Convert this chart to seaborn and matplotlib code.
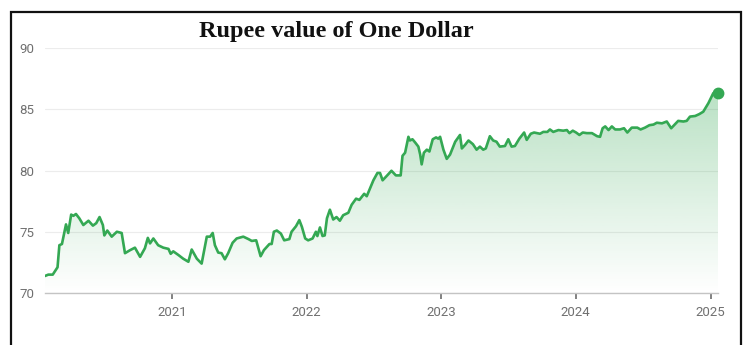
import numpy as np
import pandas as pd
import matplotlib
matplotlib.use("Agg")
import matplotlib.pyplot as plt
import matplotlib.dates as mdates
from matplotlib.patches import Rectangle
import seaborn as sns

# USD/INR reference rate (rupees per dollar)
dates = [
    "2020-01-22", "2020-01-31", "2020-02-12", "2020-02-25", "2020-03-01", "2020-03-08",
    "2020-03-19", "2020-03-25", "2020-04-02", "2020-04-08", "2020-04-15", "2020-04-24",
    "2020-05-05", "2020-05-19", "2020-05-31", "2020-06-09", "2020-06-18", "2020-06-27",
    "2020-07-01", "2020-07-09", "2020-07-21", "2020-08-04", "2020-08-17", "2020-08-26",
    "2020-09-09", "2020-09-22", "2020-10-06", "2020-10-19", "2020-10-27", "2020-11-02",
    "2020-11-11", "2020-11-24", "2020-12-08", "2020-12-22", "2020-12-28", "2021-01-04",
    "2021-01-18", "2021-01-31", "2021-02-14", "2021-02-23", "2021-03-09", "2021-03-22",
    "2021-04-05", "2021-04-14", "2021-04-21", "2021-04-27", "2021-05-06", "2021-05-15",
    "2021-05-24", "2021-06-02", "2021-06-14", "2021-06-25", "2021-07-13", "2021-07-27",
    "2021-08-05", "2021-08-17", "2021-08-23", "2021-08-29", "2021-09-07", "2021-09-22",
    "2021-09-28", "2021-10-04", "2021-10-12", "2021-10-23", "2021-11-01", "2021-11-15",
    "2021-11-21", "2021-12-03", "2021-12-12", "2021-12-19", "2021-12-28", "2022-01-05",
    "2022-01-17", "2022-01-26", "2022-01-30", "2022-02-06", "2022-02-13", "2022-02-19",
    "2022-02-25", "2022-03-05", "2022-03-14", "2022-03-23", "2022-04-01", "2022-04-10",
    "2022-04-24", "2022-05-03", "2022-05-15", "2022-05-24", "2022-06-06", "2022-06-13",
    "2022-06-22", "2022-07-01", "2022-07-12", "2022-07-19", "2022-07-26", "2022-08-06",
    "2022-08-19", "2022-08-31", "2022-09-13", "2022-09-18", "2022-09-25", "2022-10-04",
    "2022-10-08", "2022-10-15", "2022-10-22", "2022-10-31", "2022-11-05", "2022-11-09",
    "2022-11-15", "2022-11-23", "2022-11-30", "2022-12-09", "2022-12-18", "2022-12-24",
    "2022-12-29", "2023-01-07", "2023-01-16", "2023-01-25", "2023-02-08", "2023-02-21",
    "2023-02-26", "2023-03-07", "2023-03-16", "2023-03-28", "2023-04-07", "2023-04-16",
    "2023-04-25", "2023-05-02", "2023-05-13", "2023-05-22", "2023-05-31", "2023-06-09",
    "2023-06-23", "2023-07-02", "2023-07-11", "2023-07-20", "2023-08-01", "2023-08-14",
    "2023-08-21", "2023-09-01", "2023-09-10", "2023-09-26", "2023-10-05", "2023-10-16",
    "2023-10-23", "2023-11-01", "2023-11-15", "2023-11-28", "2023-12-08", "2023-12-15",
    "2023-12-24", "2024-01-02", "2024-01-11", "2024-01-20", "2024-01-31", "2024-02-14",
    "2024-02-28", "2024-03-07", "2024-03-14", "2024-03-21", "2024-03-30", "2024-04-08",
    "2024-04-17", "2024-04-30", "2024-05-11", "2024-05-20", "2024-06-01", "2024-06-16",
    "2024-06-25", "2024-07-07", "2024-07-19", "2024-07-30", "2024-08-08", "2024-08-22",
    "2024-09-04", "2024-09-16", "2024-09-24", "2024-10-05", "2024-10-19", "2024-10-28",
    "2024-11-06", "2024-11-20", "2024-12-01", "2024-12-12", "2024-12-26", "2025-01-08",
    "2025-01-21",
]
rates = [
    71.39, 71.50, 71.50, 72.10, 73.90, 74.00,
    75.60, 74.90, 76.40, 76.30, 76.45, 76.10,
    75.55, 75.90, 75.50, 75.70, 76.20, 75.55,
    74.70, 75.10, 74.60, 75.00, 74.90, 73.25,
    73.50, 73.70, 72.95, 73.65, 74.50, 74.05,
    74.45, 73.90, 73.70, 73.60, 73.20, 73.40,
    73.10, 72.80, 72.55, 73.55, 72.80, 72.40,
    74.60, 74.60, 74.90, 73.90, 73.30, 73.25,
    72.75, 73.25, 74.10, 74.45, 74.60, 74.40,
    74.25, 74.30, 73.65, 73.00, 73.50, 74.00,
    74.00, 75.00, 75.10, 74.85, 74.30, 74.40,
    75.00, 75.45, 75.95, 75.40, 74.45, 74.30,
    74.45, 75.00, 74.65, 75.35, 74.65, 74.70,
    76.10, 76.80, 76.00, 76.20, 75.90, 76.35,
    76.55, 77.20, 77.70, 77.60, 78.10, 77.90,
    78.55, 79.20, 79.80, 79.80, 79.20, 79.55,
    79.98, 79.60, 79.60, 81.20, 81.45, 82.75,
    82.45, 82.55, 82.30, 81.95, 81.30, 80.50,
    81.45, 81.70, 81.55, 82.55, 82.70, 82.60,
    82.75, 81.70, 80.95, 81.30, 82.35, 82.90,
    81.80, 82.10, 82.45, 82.15, 81.70, 81.95,
    81.70, 81.80, 82.80, 82.45, 82.35, 81.95,
    82.00, 82.55, 81.95, 82.00, 82.60, 83.10,
    82.50, 83.00, 83.10, 83.00, 83.15, 83.15,
    83.35, 83.15, 83.30, 83.25, 83.30, 83.05,
    83.25, 83.10, 82.90, 83.10, 83.05, 83.05,
    82.80, 82.75, 83.45, 83.60, 83.30, 83.60,
    83.35, 83.35, 83.45, 83.10, 83.50, 83.50,
    83.35, 83.50, 83.70, 83.75, 83.90, 83.85,
    84.00, 83.45, 83.70, 84.05, 84.00, 84.05,
    84.40, 84.45, 84.60, 84.80, 85.50, 86.30,
    86.35,
]
title_text = "Rupee value of One Dollar"
y_ticks = [70, 75, 80, 85, 90]
x_tick_years = ["2021", "2022", "2023", "2024", "2025"]

df = pd.DataFrame({"date": pd.to_datetime(dates), "rate": rates})

GREEN = "#34a853"
LABEL_GREY = "#707070"

sns.set_theme(style="white")
plt.rcParams["font.family"] = ["Roboto", "DejaVu Sans"]

fig = plt.figure(figsize=(7.45, 3.45), dpi=100)
ax = fig.add_axes([45 / 745, 1 - 293 / 345, (718 - 45) / 745, (293 - 48) / 345])

y_min, y_max = y_ticks[0], y_ticks[-1]
x_num = mdates.date2num(df["date"])

# gradient-filled area under the curve
area = ax.fill_between(df["date"], df["rate"], y_min, facecolor="none", edgecolor="none")
top = df["rate"].max()
rgba = np.zeros((256, 1, 4))
rgba[..., :3] = matplotlib.colors.to_rgb(GREEN)
rgba[:, 0, 3] = np.linspace(0.0, 0.34, 256)
img = ax.imshow(rgba, extent=[x_num[0], x_num[-1], y_min, top],
                aspect="auto", origin="lower", zorder=1)
img.set_clip_path(area.get_paths()[0], transform=ax.transData)

sns.lineplot(data=df, x="date", y="rate", ax=ax, color=GREEN, linewidth=1.9,
             zorder=3)
ax.plot(df["date"].iloc[-1], df["rate"].iloc[-1], "o", color=GREEN,
        markersize=7.5, zorder=4, clip_on=False)

ax.set_xlim(x_num[0], x_num[-1])
ax.set_ylim(y_min, y_max)
ax.set_yticks(y_ticks)
ax.set_xticks(mdates.date2num(pd.to_datetime([y + "-01-01" for y in x_tick_years])))
ax.set_xticklabels(x_tick_years)
ax.set_xlabel("")
ax.set_ylabel("")

ax.grid(axis="y", color="#ececec", linewidth=0.8)
ax.grid(axis="x", visible=False)
ax.set_axisbelow(True)
for side in ["top", "right", "left"]:
    ax.spines[side].set_visible(False)
ax.spines["bottom"].set_color("#c4c4c4")
ax.spines["bottom"].set_linewidth(1.0)

ax.tick_params(axis="x", length=4.5, width=1.3, color="#777777", pad=5,
               labelsize=9.5, labelcolor=LABEL_GREY, bottom=True)
ax.tick_params(axis="y", length=0, pad=7.5, labelsize=9.5, labelcolor=LABEL_GREY)

fig.text(336 / 745, 1 - 32 / 345, title_text, ha="center", va="center",
         fontsize=17.5, fontweight="bold", family=["Liberation Serif", "DejaVu Serif"],
         color="#111111")

# outer frame
fig.patches.append(Rectangle((10.5 / 745, -0.05), (741 - 10.5) / 745, 1.05 - 11.5 / 345,
                             transform=fig.transFigure, fill=False,
                             edgecolor="#111111", linewidth=1.6))

fig.savefig("out.png", dpi=100, facecolor="white")
